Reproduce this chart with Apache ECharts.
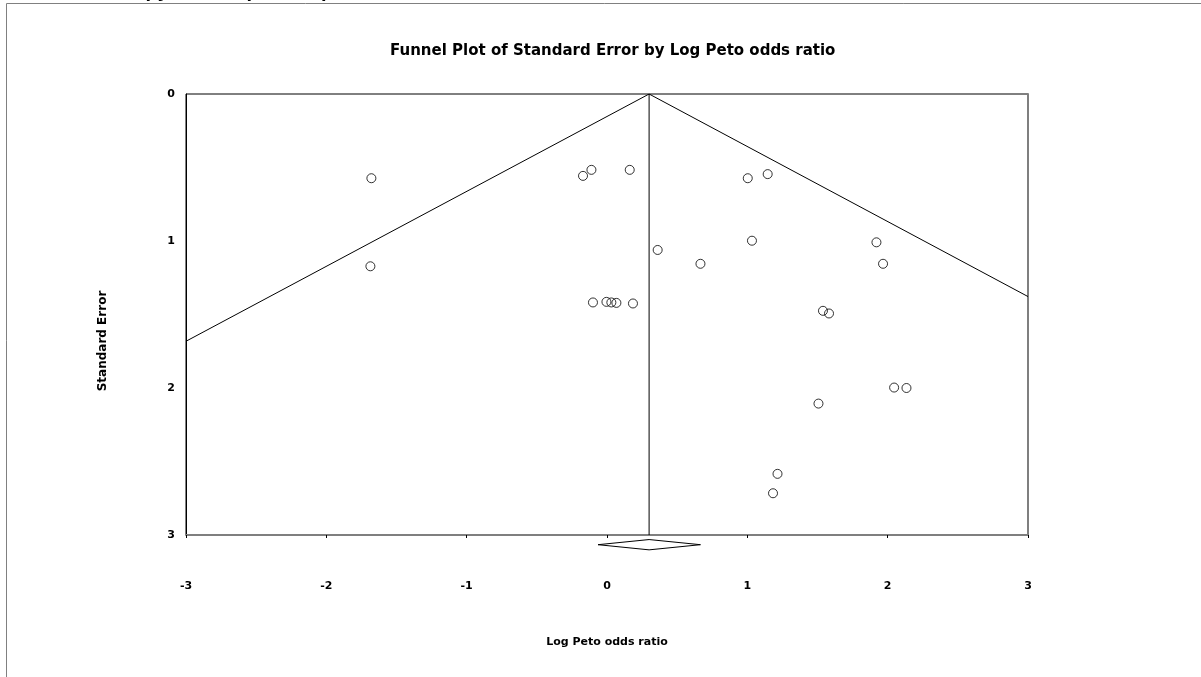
<!DOCTYPE html>
<html>
<head>
<meta charset="utf-8">
<script src="https://cdn.jsdelivr.net/npm/echarts@6/dist/echarts.min.js"></script>
<style>
html,body{margin:0;padding:0;background:#fff;}
#c{width:1201px;height:677px;}
</style>
</head>
<body>
<div id="c"></div>
<script>
// Study effects (log Peto odds ratio) and standard errors
const logOR = [-1.679, -1.686, -0.171, -0.111, 0.162, 0.361, -0.100, -0.004, 0.031, 0.067, 0.185,
               1.003, 1.145, 1.033, 0.666, 1.920, 1.967, 1.539, 1.582, 2.046, 2.134, 1.507, 1.215, 1.183];
const stdErr = [0.573, 1.172, 0.557, 0.516, 0.516, 1.061, 1.418, 1.414, 1.418, 1.421, 1.425,
                0.573, 0.545, 0.998, 1.155, 1.009, 1.155, 1.475, 1.493, 1.997, 2.000, 2.106, 2.584, 2.716];
// Pooled estimate and its confidence interval
const pooled = 0.30;
const ciLow = -0.064;
const ciHigh = 0.666;
// Funnel boundaries (end points where they meet the plot frame)
const funnelLeft = [[0.30, 0], [-3, 1.682]];
const funnelRight = [[0.30, 0], [3, 1.378]];
// Diamond vertical placement (below the axis)
const diamondY = [3.031, 3.066, 3.101];
const xTickValues = [-3, -2, -1, 0, 1, 2, 3];
const yTickValues = [0, 1, 2, 3];

const FONT = '"Liberation Sans", Arial, sans-serif';
const WFONT = '"DejaVu Sans", "Liberation Sans", sans-serif';
const points = logOR.map((v, i) => [v, stdErr[i]]);
const diamond = [[ciLow, diamondY[1]], [pooled, diamondY[0]], [ciHigh, diamondY[1]], [pooled, diamondY[2]], [ciLow, diamondY[1]]];

const chart = echarts.init(document.getElementById('c'), null, {renderer: 'canvas'});
chart.setOption({
  animation: false,
  backgroundColor: '#ffffff',
  title: {
    text: 'Funnel Plot of Standard Error by Log Peto odds ratio',
    left: 385, top: 39,
    textStyle: {fontFamily: WFONT, fontWeight: 'bold', fontSize: 15, color: '#000'}
  },
  grid: {left: 186, right: 173, top: 94, bottom: 142, show: true, borderColor: '#000', borderWidth: 1, backgroundColor: 'transparent'},
  xAxis: {
    type: 'value', min: -3, max: 3, interval: 1,
    axisLine: {show: true, onZero: false, lineStyle: {color: '#7f7f7f', width: 2}},
    axisTick: {show: true, length: 3, lineStyle: {color: '#000'}},
    splitLine: {show: false},
    axisLabel: {margin: 46, fontFamily: WFONT, fontWeight: 'bold', fontSize: 11, color: '#000',
      formatter: v => xTickValues.includes(v) ? String(v) : ''},
    name: 'Log Peto odds ratio', nameLocation: 'middle', nameGap: 102,
    nameTextStyle: {fontFamily: WFONT, fontWeight: 'bold', fontSize: 11, color: '#000'}
  },
  yAxis: [{
    type: 'value', min: 0, max: 3, interval: 1, inverse: true,
    axisLine: {show: true, onZero: false, lineStyle: {color: '#000', width: 1}},
    axisTick: {show: false},
    splitLine: {show: false},
    axisLabel: {margin: 11, fontFamily: WFONT, fontWeight: 'bold', fontSize: 11, color: '#000',
      formatter: v => yTickValues.includes(v) ? String(v) : ''}
  }, {
    type: 'value', min: 0, max: 3, interval: 1, inverse: true, position: 'right',
    axisLine: {show: true, onZero: false, lineStyle: {color: '#7f7f7f', width: 2}},
    axisTick: {show: false}, axisLabel: {show: false}, splitLine: {show: false}
  }],
  graphic: [
    {type: 'rect', shape: {x: 6.5, y: 3.5, width: 1400, height: 900}, silent: true, z: -10,
      style: {fill: 'none', stroke: '#808080', lineWidth: 1}},
    {type: 'text', left: 91, top: -19, silent: true,
      style: {text: 'Therapy: funnel plot for pain score', font: 'bold 20px ' + FONT, fill: '#000'}},
    {type: 'text', x: 103, y: 341, rotation: Math.PI / 2, silent: true,
      style: {text: 'Standard Error', font: 'bold 12px ' + WFONT, fill: '#000', align: 'center', verticalAlign: 'middle'}}
  ],
  series: [
    {type: 'line', data: funnelLeft, symbol: 'none', lineStyle: {color: '#000', width: 1}, silent: true},
    {type: 'line', data: funnelRight, symbol: 'none', lineStyle: {color: '#000', width: 1}, silent: true},
    {type: 'line', data: [[pooled, 0], [pooled, 3]], symbol: 'none', lineStyle: {color: '#000', width: 1}, silent: true},
    {type: 'line', data: diamond, symbol: 'none', clip: false, lineStyle: {color: '#000', width: 1}, silent: true},
    {type: 'scatter', data: points, symbol: 'circle', symbolSize: 9,
      itemStyle: {color: 'transparent', borderColor: '#000', borderWidth: 1}}
  ]
});
</script>
</body>
</html>
